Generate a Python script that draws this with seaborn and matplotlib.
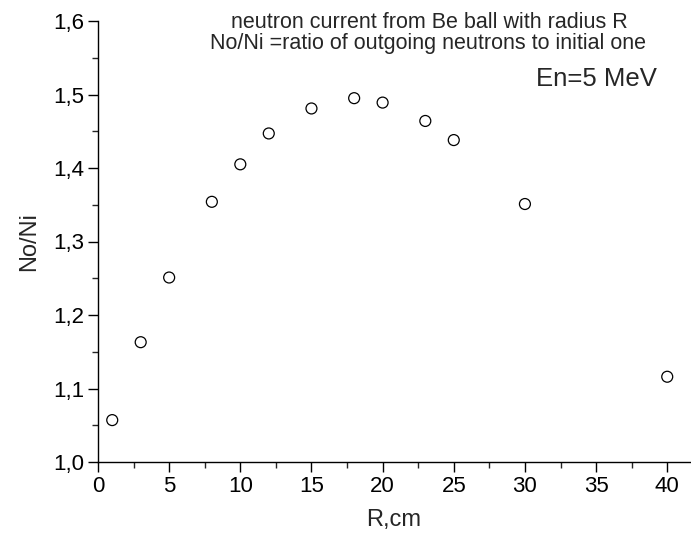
import matplotlib
matplotlib.use("Agg")
import matplotlib.pyplot as plt
import seaborn as sns
import pandas as pd
from matplotlib.ticker import MultipleLocator, FuncFormatter

# data
radius_cm = [1, 3, 5, 8, 10, 12, 15, 18, 20, 23, 25, 30, 40]
ratio_no_ni = [1.057, 1.163, 1.251, 1.354, 1.405, 1.447, 1.481, 1.495,
               1.489, 1.464, 1.438, 1.351, 1.116]

title_lines = ["neutron current from Be ball with radius R",
               "No/Ni =ratio of outgoing neutrons to initial one"]
energy_note = "En=5 MeV"


def comma_fmt(val, pos):
    """Decimal comma labels like 1,5"""
    return f"{val:.1f}".replace(".", ",")


def main():
    df = pd.DataFrame({"R": radius_cm, "ratio": ratio_no_ni})

    sns.set_theme(style="ticks")
    plt.rcParams["font.family"] = ["Liberation Sans", "DejaVu Sans"]

    fig = plt.figure(figsize=(6.91, 5.41), dpi=100)
    ax = fig.add_axes([98 / 691, 79 / 541, 592 / 691, 441 / 541])

    sns.scatterplot(data=df, x="R", y="ratio", ax=ax, marker="o", s=62,
                    facecolors="none", edgecolor="black", linewidth=0.9)
    for coll in ax.collections:
        coll.set_facecolor("none")

    ax.set_xlim(0, 41.6)
    ax.set_ylim(1.0, 1.6)

    ax.xaxis.set_major_locator(MultipleLocator(5))
    ax.xaxis.set_minor_locator(MultipleLocator(2.5))
    ax.yaxis.set_major_locator(MultipleLocator(0.1))
    ax.yaxis.set_minor_locator(MultipleLocator(0.05))
    ax.yaxis.set_major_formatter(FuncFormatter(comma_fmt))

    ax.tick_params(which="major", direction="out", length=7, width=1.0,
                   labelsize=16, colors="black", pad=3)
    ax.tick_params(which="minor", direction="out", length=4, width=1.0)

    for side in ["top", "right"]:
        ax.spines[side].set_visible(False)
    for side in ["left", "bottom"]:
        ax.spines[side].set_color("black")
        ax.spines[side].set_linewidth(1.0)

    ax.set_xlabel("R,cm", fontsize=17, labelpad=9)
    ax.set_ylabel("No/Ni", fontsize=17, labelpad=9)

    fig.text(429 / 691, 1 - 22 / 541, title_lines[0], ha="center", va="center", fontsize=15.5)
    fig.text(428 / 691, 1 - 44 / 541, title_lines[1], ha="center", va="center", fontsize=15.5)
    fig.text(657 / 691, 1 - 79 / 541, energy_note, ha="right", va="center", fontsize=18.5)

    fig.savefig("out.png", dpi=100)


if __name__ == "__main__":
    main()
